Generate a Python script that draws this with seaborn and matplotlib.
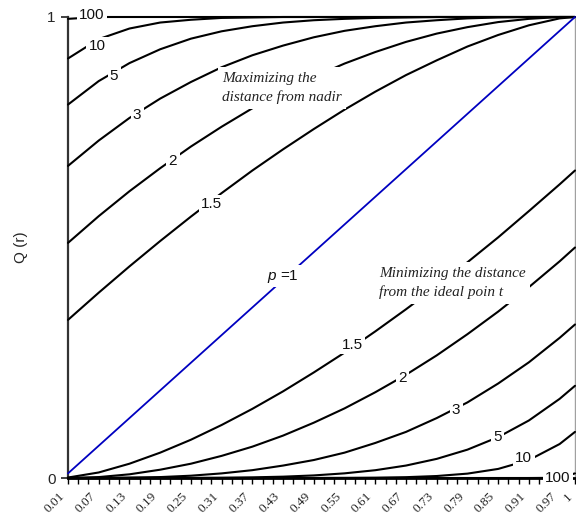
import matplotlib
matplotlib.use("Agg")
import matplotlib.pyplot as plt
from matplotlib.transforms import ScaledTranslation
import seaborn as sns

# ---------------- data ----------------
r = [0.01, 0.07, 0.13, 0.19, 0.25, 0.31, 0.37, 0.43, 0.49, 0.55,
     0.61, 0.67, 0.73, 0.79, 0.85, 0.91, 0.97, 1.00]

# p = 1 (diagonal)
q_p1 = [0.01, 0.07, 0.13, 0.19, 0.25, 0.31, 0.37, 0.43, 0.49, 0.55,
        0.61, 0.67, 0.73, 0.79, 0.85, 0.91, 0.97, 1.00]

# upper family ("Maximizing the distance from nadir")
upper_1_5 = [0.343, 0.402, 0.459, 0.514, 0.567, 0.618, 0.667, 0.713, 0.757, 0.799,
             0.838, 0.874, 0.906, 0.936, 0.961, 0.982, 0.997, 1.000]
upper_2 = [0.510, 0.568, 0.622, 0.672, 0.719, 0.762, 0.802, 0.838, 0.870, 0.899,
           0.924, 0.946, 0.964, 0.978, 0.989, 0.996, 1.000, 1.000]
upper_3 = [0.677, 0.732, 0.781, 0.823, 0.859, 0.891, 0.917, 0.938, 0.956, 0.970,
           0.980, 0.988, 0.993, 0.997, 0.999, 1.000, 1.000, 1.000]
upper_5 = [0.810, 0.861, 0.900, 0.930, 0.953, 0.969, 0.980, 0.988, 0.993, 0.996,
           0.998, 0.999, 1.000, 1.000, 1.000, 1.000, 1.000, 1.000]
upper_10 = [0.910, 0.952, 0.975, 0.988, 0.994, 0.998, 0.999, 1.000, 1.000, 1.000,
            1.000, 1.000, 1.000, 1.000, 1.000, 1.000, 1.000, 1.000]
upper_100 = [0.996, 1.000, 1.000, 1.000, 1.000, 1.000, 1.000, 1.000, 1.000, 1.000,
             1.000, 1.000, 1.000, 1.000, 1.000, 1.000, 1.000, 1.000]

# lower family ("Minimizing the distance from the ideal point")
lower_1_5 = [0.001, 0.012, 0.031, 0.055, 0.083, 0.115, 0.150, 0.188, 0.229, 0.272,
             0.318, 0.366, 0.416, 0.468, 0.522, 0.579, 0.637, 0.667]
lower_2 = [0.000, 0.002, 0.008, 0.018, 0.031, 0.048, 0.068, 0.092, 0.120, 0.151,
           0.186, 0.224, 0.266, 0.312, 0.361, 0.414, 0.470, 0.500]
lower_3 = [0.000, 0.000, 0.001, 0.002, 0.005, 0.010, 0.017, 0.027, 0.039, 0.055,
           0.076, 0.100, 0.130, 0.164, 0.205, 0.251, 0.304, 0.333]
lower_5 = [0.000, 0.000, 0.000, 0.000, 0.0002, 0.0006, 0.0014, 0.0029, 0.0056, 0.0101,
           0.0169, 0.0270, 0.0415, 0.0615, 0.0887, 0.1248, 0.1717, 0.200]
lower_10 = [0.000, 0.000, 0.000, 0.000, 0.000, 0.000, 0.000, 0.000, 0.0001, 0.0003,
            0.0007, 0.0018, 0.0043, 0.0095, 0.0197, 0.0389, 0.0737, 0.100]
lower_100 = [0.000, 0.000, 0.000, 0.000, 0.000, 0.000, 0.000, 0.000, 0.000, 0.000,
             0.000, 0.000, 0.000, 0.000, 0.000, 0.000, 0.0005, 0.010]

upper_series = [upper_1_5, upper_2, upper_3, upper_5, upper_10, upper_100]
lower_series = [lower_1_5, lower_2, lower_3, lower_5, lower_10, lower_100]

# curve labels: (text, r, Q)
upper_labels = [("100", 0.057, 1.005), ("10", 0.067, 0.937), ("5", 0.100, 0.872),
                ("3", 0.145, 0.787), ("2", 0.215, 0.688), ("1.5", 0.291, 0.594)]
p1_label = ("$p$ =1", 0.430, 0.438)
lower_labels = [("1.5", 0.565, 0.289), ("2", 0.664, 0.217), ("3", 0.768, 0.148),
                ("5", 0.848, 0.089), ("10", 0.900, 0.043), ("100", 0.967, 0.000)]

note_upper = "Maximizing the\ndistance from nadir"
note_lower = "Minimizing the distance\nfrom the ideal poin t"

x_tick_labels = ["0.01", "0.07", "0.13", "0.19", "0.25", "0.31", "0.37", "0.43", "0.49",
                 "0.55", "0.61", "0.67", "0.73", "0.79", "0.85", "0.91", "0.97", "1"]
x_tick_pos = [0.01, 0.07, 0.13, 0.19, 0.25, 0.31, 0.37, 0.43, 0.49,
              0.55, 0.61, 0.67, 0.73, 0.79, 0.85, 0.91, 0.97, 1.00]

# ---------------- style ----------------
sns.set_style("white")
plt.rcParams["font.family"] = ["Liberation Sans", "DejaVu Sans"]
plt.rcParams["mathtext.fontset"] = "custom"
plt.rcParams["mathtext.it"] = "Liberation Sans:italic"
plt.rcParams["mathtext.rm"] = "Liberation Sans"

fig = plt.figure(figsize=(5.76, 5.16), dpi=100)
ax = fig.add_axes([68 / 576, 38 / 516, (575 - 68) / 576, (478 - 17) / 516])

for vals in upper_series + lower_series:
    sns.lineplot(x=r, y=vals, color="black", linewidth=1.5, ax=ax,
                 clip_on=False, zorder=3)
sns.lineplot(x=r, y=q_p1, color="#0000c0", linewidth=1.3, ax=ax,
             clip_on=False, zorder=3)

ax.set_xlim(0.01, 1.0)
ax.set_ylim(0, 1)

box = dict(boxstyle="square,pad=0.15", fc="white", ec="none")
for txt, xx, yy in upper_labels + [p1_label] + lower_labels:
    ax.text(xx, yy, txt, ha="center", va="center", fontsize=11, color="#111111",
            bbox=box, zorder=6, clip_on=False)

serif = ["Liberation Serif", "DejaVu Serif"]
ax.text(0.311, 0.846, note_upper, ha="left", va="center", fontsize=11,
        family=serif, style="italic", color="#222222", linespacing=1.5,
        bbox=dict(boxstyle="square,pad=0.3", fc="white", ec="none"), zorder=6)
ax.text(0.617, 0.423, note_lower, ha="left", va="center", fontsize=11,
        family=serif, style="italic", color="#222222", linespacing=1.5,
        bbox=dict(boxstyle="square,pad=0.3", fc="white", ec="none"), zorder=6)

# axes decoration
ax.spines["top"].set_visible(False)
ax.spines["left"].set_color("#333333")
ax.spines["left"].set_linewidth(1.6)
ax.spines["bottom"].set_color("black")
ax.spines["bottom"].set_linewidth(2.0)
ax.spines["right"].set_color("#a0a0a0")
ax.spines["right"].set_linewidth(1.0)

ax.set_yticks([0, 1])
ax.set_yticklabels(["0", "1"], fontsize=11)
ax.tick_params(axis="y", direction="out", length=5, width=1.3, color="#333333",
               pad=4, left=True)

ax.set_xticks(x_tick_pos)
ax.set_xticklabels(x_tick_labels, rotation=45, ha="right", va="center",
                   rotation_mode="anchor", fontsize=9.5, family=serif)
minor = [0.01 + 0.02 * k for k in range(50)]
ax.set_xticks(minor, minor=True)
ax.tick_params(axis="x", which="both", direction="out", length=4, width=1.0,
               color="black", bottom=True)
ax.tick_params(axis="x", which="major", pad=8)
shift = ScaledTranslation(-5 / 100, 0, fig.dpi_scale_trans)
for lab in ax.get_xticklabels():
    lab.set_transform(lab.get_transform() + shift)

ax.set_xlabel("")
ax.set_ylabel("Q (r)", fontsize=11, labelpad=14)

fig.savefig("out.png", dpi=100)
